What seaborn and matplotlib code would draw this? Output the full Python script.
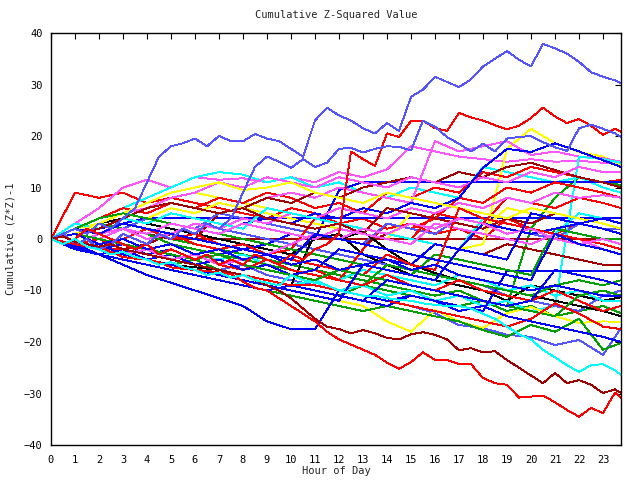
import matplotlib
matplotlib.use("Agg")
import matplotlib.pyplot as plt
import seaborn as sns

# ---------------- data ----------------
hours = list(range(24)) + [23.75]
hours_half = [i * 0.5 for i in range(48)] + [23.75]

# prominent series (half-hour grid)
lb_top = [0, 1, 2, 1, 3, 2, 4, 6, 11, 16, 18, 18.6, 19.5, 18, 20, 19, 19, 20.4, 19.5, 19,
          17.5, 16, 23, 25.5, 24, 23, 21.5, 20.5, 22.5, 21, 27.6, 29, 31.5, 30.5, 29.5, 31,
          33.5, 35, 36.5, 34.8, 33.5, 37.9, 37, 36, 34.4, 32.4, 31.5, 30.8, 30.2]
red_top = [0, -1, 0, 2, 1, 0, -1, -2, -1, -3, -2, -3, -4, -3, -5, -4, -5, -3, -4, -5,
           -3, -4, -2, -1, 1, 17, 15.5, 14.2, 20.5, 19.8, 22.9, 23, 21.5, 21, 24.5, 23.6,
           23, 22.1, 21.3, 22, 23.5, 25.5, 23.8, 22.5, 23.3, 22, 20.2, 21.4, 20.8]
lb_second = [0, 1, -1, 0, -2, -1, 1, 0, -1, 1, 0, 2, 1, 3, 2, 4, 9, 14, 16, 15,
             13.8, 15.5, 14, 14.8, 17.5, 17.7, 16.8, 17.5, 18, 17.9, 17.2, 23, 21.8, 19.8,
             18.5, 17, 18.5, 17, 19.5, 19.8, 20, 18.8, 17.8, 17.1, 21.5, 22.2, 21.4, 20.5, 19.8]
red_bottom = [0, -0.5, -1, -1.5, -2, -2.5, -3.5, -3.8, -4, -4.5, -5.5, -5.8, -6, -6.2, -6.5,
              -6.8, -8.3, -9.5, -10, -11.5, -13, -14.5, -16, -18, -19.5, -20.5, -21.5, -22.5,
              -24, -25.2, -23.9, -22, -23.5, -23.5, -24.3, -24.3, -27, -28, -28.3, -30.8,
              -30.6, -30.4, -31.7, -33.2, -34.5, -32.8, -33.8, -29.8, -30.9]
dkred_bottom = [0, 0.5, -0.5, -1, -1.5, -1, -2, -2.5, -3, -3.5, -4, -4.5, -5, -5.5, -6, -6.5,
                -7, -8, -9, -10, -11.5, -13.5, -15.5, -17, -17.5, -18.3, -17.7, -18.3, -19.2,
                -19.5, -18.5, -18.1, -18.6, -19.5, -21.6, -21.2, -22, -21.8, -23.5, -25, -26.5,
                -28, -26, -28, -27.4, -28.3, -29.9, -29.2, -29.9]
cyan_bottom = [0, -1, 0, -1.5, -2, -3, -2.5, -3.5, -4, -5, -4.5, -5.5, -6, -7, -6.5, -7.5,
               -7, -8, -8.5, -9, -7, -8, -8.5, -9, -10, -10.5, -11, -11, -11.5, -11.8, -12,
               -12.5, -12.8, -13, -13, -13.5, -14.5, -15.5, -17, -18.5, -19.5, -21.5, -23,
               -24.5, -25.8, -24.5, -24.3, -25.5, -26.4]

# other series (hourly grid)
r1 = [0, 9, 8, 9, 7, 8, 7, 6, 5, 4, 6, 5, 3, 4, 2, 3, 1, 2, 0, 4, 2, 1, 3, 2, 1]
r2 = [0, 2, 4, 6, 5, 7, 6, 8, 7, 9, 8, 6, 7, 5, 9, 8, 10, 9, 13, 12, 14, 13, 12, 11, 11.5]
r3 = [0, -1, -2, -3, -2, -4, -5, -4, -6, -5, -7, -6, -8, -2, 3, 2, 4, 8, 7, 10, 9, 11, 10, 9, 8]
r4 = [0, 1, -1, 0, 2, 1, -1, -2, -1, -3, -2, 4, 3, 2, 1, 0, 5, 4, 3, 8, 7, 6, 8, 7, 6]
r5 = [0, -1, 0, -2, -3, -4, -3, -5, -6, -4, -6, -7, -8, -9, -7, -9, -10, -8, -10, -11, -12, -10, -12, -14, -13]
r6 = [0, 2, 1, 3, 2, 0, 1, -1, -2, -3, -4, -5, -6, -7, -3, -5, -6, 6, 4, 3, 2, 1, 0, -1, -2]
r7 = [0, -1, -2, -2, -3, -4, -5, -6, -7, -8, -9, -9, -10, -11, -12, -13, -14, -15, -16, -17, -15.5, -12.5, -14.5, -17, -17.5]
dr1 = [0, 2, 3, 2, 1, 0, 0, 0, 0, 0, 0, 0, 0, 0, 0, 0, 0, 0, 0, 0, 0, 0, 0, 0, 0]
dr2 = [0, 1, 3, 5, 4, 6, 5, 7, 6, 8, 7, 9, 8, 10, 11, 12, 11, 13, 12, 14, 14.8, 13.4, 12, 11, 10]
dr3 = [0, -1, 0, -2, -1, 1, 0, 5, 4, 3, 2, 1, 0, -1, 1, 0, -1, -2, -3, -1, -2, -3, -4, -5, -5]
dr4 = [0, 1, 2, 4, 6, 7, 6, 5, 6, 4, 3, 2, 3, 1, 6, 5, 4, 3, 2, 4, 3, 5, 4, 3, 2]
m1 = [0, 3, 6, 10, 11.5, 10, 12, 11.5, 11.8, 11, 12, 11, 13, 12, 13.5, 18, 17, 16, 15.5, 15, 15.5, 15, 15.2, 14.8, 14.8]
m2 = [0, 1, 3, 2, 4, 6, 5, 7, 6, 8, 9, 8, 10, 9, 8, 7, 19, 17, 18, 19, 16.3, 17, 16, 15.7, 15]
m3 = [0, 2, 4, 5, 6, 8, 9, 11, 10, 12, 11, 10, 12, 11, 10, 12, 11, 10, 12, 11, 13, 12, 14, 13, 13]
m4 = [0, -1, 1, 2, 0, 1, 3, 2, 4, 3, 5, 4, 6, 5, 4, 6, 5, 7, 6, 8, 7, 9, 8, 8.5, 8]
m5 = [0, 1, 0, 2, 1, 3, 2, 1, 3, 2, 1, 0, 2, 1, 0, -1, 3, 2, 1, 0, -1, 1, 0, -2, -3]
m6 = [0, -2, -1, -3, -2, -4, -3, -5, -4, -3, -1, 1, 0, 2, 1, 3, 2, 4, 3, 1, 2, 0, -1, 0, -1]
b1 = [0, 1, 2, 3, 4.1, 4.1, 4.1, 4.1, 4.1, 4.1, 4.1, 4.1, 4.1, 4.1, 4.1, 4.1, 4.1, 4.1, 4.1, 4.1, 4.1, 4.1, 4.1, 4.1, 4.1]
b2 = [0, -1, -2, -1, -3, -2, -4, -3, -2, -1, 1, 0, 9.5, 11.1, 11.1, 11.1, 11.1, 11.1, 11.1, 11.1, 11.1, 11.1, 11.1, 11.1, 11.1]
b3 = [0, -1, -2, -3, -2, -4, -5, -6, -7, -8, -9, -10, -11, -12, -13, -11, -12, -13, -14, -6.2, -6.2, -6.2, -6.2, -6.2, -6.2]
b4 = [0, 1, 0, 2, 1, 3, 2, 1, 3, 4, 3, 5, 4, 6, 5, 7, 6, 8, 13.8, 17.5, 16.9, 18.6, 17, 15.3, 14]
b5 = [0, -1, -3, -2, -4, -3, -5, -4, -6, -5, -7, -6, -2, -3, -4, -5, -1, -2, 3, 2, 1, 2, 3, 2, 1]
b6 = [0, -2, -3, -4, -5, -6, -7, -8, -9, -10, -9, -10, -11, -12, -8, -9, -10, -11, -12, -13, -12, -6, -7, -8, -9]
b7 = [0, -1.5, -3, -5, -7, -8.5, -10, -11.5, -13, -16, -17.5, -17.5, -10, -11, -12, -11, -12, -14, -13, -15, -16, -17, -18, -19, -20]
b8 = [0, 1, -1, 0, -2, -1, -3, -2, -4, -3, -5, -4, -6, -5, -4, -6, -5, -7, -8, -9, -10, -9, -10, -11, -11]
b9 = [0, 2, 1, 3, 2, 1, 0, -1, -2, -3, -4, 1, 0, -1, -2, -3, -4, -5, -6, -7, -8, 1, -1, -2, -3]
b10 = [0, -2, -1, -3, -4, -5, -6, -7, -8, -9, -10, -11, -12, -5, -6, -7, -8, -2, -3, -4, 5, 4, 3, 4, 3]
g1 = [0, 2, 3, 2, 1, 0, -1, -2, -3, -4, -5, -6, -7, -8, -9, -10, -11, -10, -12, -13, 2, 8, 12, 11, 10.5]
g2 = [0, -1, -2, -3, -4, -5, -4, -6, -7, -8, -9, -10, -11, -9, -10, -11, -12, -13, -12, -14, -13, -15, -14, -13, -14.4]
g3 = [0, -1, -3, -4, -5, -6, -7, -8, -9, -10, -11, -12, -13, -14, -13, -14, -15, -16, -17.7, -19, -16.7, -18, -15.5, -21.5, -20.2]
g4 = [0, 1, 3, 2, 1, -1, -2, -3, -4, -5, -6, -7, -8, -9, -5, -6, -7, -8, -9, -10, -11, -9, -8, -9, -8]
g5 = [0, 2, 4, 5, 4, 3, 2, 1, 0, -1, -2, -3, -4, -5, -6, -7, -3, -4, -5, -6, -7, 2, 1, 0, 0]
g6 = [0, 1, 0, -1, -2, -3, -4, -3, -5, -6, -7, -8, -6, -7, -8, -9, -10, -11, -12, -13, -14, -15, -11, -10, -11]
c1 = [0, 2, 4, 6, 8, 10, 12, 13, 12.5, 11, 12, 10, 11, 9, 8, 10, 9, 8, 14, 13, 12, 11, 12, 10, 9]
c2 = [0, -1, -2, -3, -4, -3, -5, -6, -7, -8, -9, -8, -10, -9, -11, -10, -12, -11, -13, -12, -14, -13, 16, 15.5, 14.8]
c3 = [0, 1, -1, 0, -2, -1, -3, -4, -3, -5, -6, -7, -8, -6, -7, -8, -9, -7, -8, -10, -9, -11, -10, -12, -12]
c4 = [0, 3, 2, 4, 3, 5, 4, 3, 2, 6, 5, 4, 3, 2, 1, 0, -1, -2, 4, 3, 2, 1, 5, 4, 3]
y1 = [0, 1, 2, 4, 6, 8, 9, 8, 7, 6, 5, 4, 3, 2, 1, 0, -1, -2, -1, 17.5, 21.4, 18.6, 16.9, 16, 14.4]
y2 = [0, -1, -2, -3, -4, -5, -6, -7, -8, -9, -10, -11, -12, -13, -16, -18, -13.8, -16, -17.3, -14.4, -13.2, -15, -16.3, -16, -16.1]
y3 = [0, 2, 3, 5, 4, 6, 5, 7, 6, 5, 4, 3, 2, 1, 0, 5, 4, 3, 2, 6, 5, 4, 3, 4, 3]
y4 = [0, 1, 3, 5, 7, 9, 10, 11, 9.5, 10, 11, 9, 8, 7, 9, 8, 7, 6, 5, 4, 6, 5, 4, 3, 2]
lb3 = [0, -1, -2, -3, -2, -4, -5, -6, -5, -7, -8, -9, -10, -11, -12, -13, -14.4, -16.7, -17.3, -18.6, -19, -20.6, -19.6, -22.5, -17.3]
lb4 = [0, 2, 1, 3, 2, 1, 3, 2, 1, 0, -1, -2, -3, -4, -5, -6, -7, -8, -9, -11, -12, -13, -14, -11, -10]
lb5 = [0, 1, 3, 2, 4, 3, 2, 5, 4, 3, 2, 1, 0, -1, 3, 2, 1, 4, 3, 2, 1, 0, 3, 2, 2]
k1 = [0, 1, 3, 4, 3, 2, 1, 0, -1, -2, -3, 0, 1, -3, -5, -7, -8, -9, -10, -12, -9, -10, -11, -12, -11.3]
k2 = [0, -1, -2, -3, -4, -5, -5.5, -6, -7, -8, -9, 1, 0, 1.4, -2, -5, -6.6, -8, -9, -10, -11, -12, -13, -14, -15]

RED, GREEN, BLUE, MAG, CYAN = "#ff0000", "#00a000", "#0000ff", "#ff55ff", "#00ffff"
LBLUE, DRED, YEL, BLK = "#5555ff", "#a00000", "#ffff00", "#000000"

half_series = [(lb_top, LBLUE), (red_top, RED), (lb_second, LBLUE), (red_bottom, RED),
               (dkred_bottom, DRED), (cyan_bottom, CYAN)]
hour_series = [(r1, RED), (g1, GREEN), (b1, BLUE), (m1, MAG), (c1, CYAN), (dr1, DRED), (y1, YEL),
               (lb3, LBLUE), (k1, BLK), (r2, RED), (g2, GREEN), (b2, BLUE), (m2, MAG), (c2, CYAN),
               (dr2, DRED), (y2, YEL), (lb4, LBLUE), (r3, RED), (g3, GREEN), (b3, BLUE), (m3, MAG),
               (c3, CYAN), (dr3, DRED), (y3, YEL), (lb5, LBLUE), (k2, BLK), (r4, RED), (g4, GREEN),
               (b4, BLUE), (m4, MAG), (c4, CYAN), (dr4, DRED), (y4, YEL), (r5, RED), (g5, GREEN),
               (b5, BLUE), (m5, MAG), (r6, RED), (g6, GREEN), (b6, BLUE), (m6, MAG), (r7, RED),
               (b7, BLUE), (b8, BLUE), (b9, BLUE), (b10, BLUE)]

xticks = list(range(24))
yticks = list(range(-40, 41, 10))

# ---------------- plot ----------------
sns.set_theme(style="white")
plt.rcParams["font.family"] = ["DejaVu Sans Mono", "DejaVu Sans"]

fig = plt.figure(figsize=(6.4, 4.8), dpi=100)
ax = fig.add_axes([51 / 640, 35 / 480, 570 / 640, 412 / 480])

lw = 0.65
for vals, col in hour_series:
    n = min(len(hours), len(vals))
    sns.lineplot(x=hours[:n], y=vals[:n], color=col, lw=lw, ax=ax,
                 antialiased=False, sort=False, estimator=None)
for vals, col in half_series:
    n = min(len(hours_half), len(vals))
    sns.lineplot(x=hours_half[:n], y=vals[:n], color=col, lw=lw, ax=ax,
                 antialiased=False, sort=False, estimator=None)

ax.set_xlim(0, 23.75)
ax.set_ylim(-40, 40)
ax.set_xticks(xticks)
ax.set_yticks(yticks)
ax.grid(False)
for s in ax.spines.values():
    s.set_color("black")
    s.set_linewidth(1.0)
ax.tick_params(direction="in", length=4, width=0.8, colors="black",
               top=True, right=True, labelsize=7.5, pad=6)
ax.tick_params(axis="x", pad=7)

ax.set_title("Cumulative Z-Squared Value", fontsize=7.5, pad=11)
ax.set_xlabel("Hour of Day", fontsize=7.5, labelpad=1)
ax.set_ylabel("Cumulative (Z*Z)-1", fontsize=7.5, labelpad=6)

fig.savefig("out.png", dpi=100)
